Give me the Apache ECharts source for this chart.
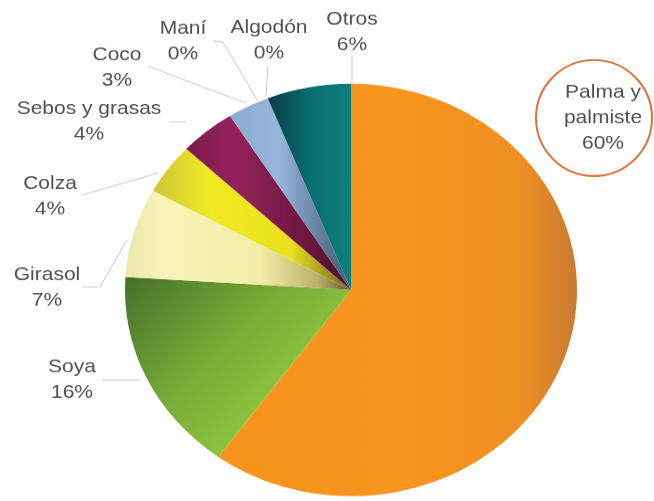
<!DOCTYPE html>
<html><head><meta charset="utf-8">
<script src="https://cdn.jsdelivr.net/npm/echarts@6/dist/echarts.min.js"></script>
<style>
html,body{margin:0;padding:0;background:#fff;overflow:hidden}
#wrap{width:654px;height:501px;overflow:hidden;position:relative}
#c{width:654px;height:549px;transform:scaleY(0.9125);transform-origin:0 0}
</style>
</head><body><div id="wrap"><div id="c"></div></div>
<script>
// ---- data ----
const categories = ['Palma y\npalmiste', 'Soya', 'Girasol', 'Colza', 'Sebos y grasas', 'Coco', 'Maní', 'Algodón', 'Otros'];
const values = [60, 16, 7, 4, 4, 3, 0, 0, 6];

// ---- layout / style (reference pixel coords) ----
const S = 0.9125; // vertical squash of the reference picture
const labelPos = [
  [603, 118], [72, 380], [47, 288], [50, 196], [89, 122], [117, 68], [183, 41], [269, 40], [352, 32]
];
const linePts = [
  null,
  [[102, 380], [121, 380], [140, 380]],
  [[83, 287], [100, 287], [127, 240]],
  [[82, 195], [120, 184], [158, 173]],
  [[170, 122], [178, 122], [186, 122]],
  [[148, 66], [200, 86], [246, 103]],
  [[213, 41], [223, 42], [257, 100]],
  [[268, 66], [267, 80], [266, 96]],
  [[352, 56], [352, 70], [352, 84]]
];
function lg(x, y, x2, y2, stops) {
  return { type: 'linear', x: x, y: y, x2: x2, y2: y2,
    colorStops: stops.map(s => ({ offset: s[0], color: s[1] })) };
}
const colors = [
  lg(0, 0, 1, 0, [[0, '#F7941D'], [0.55, '#F7951D'], [0.85, '#EF8E22'], [1, '#C97A33']]),
  lg(0, 0, 1, 1, [[0, '#44702A'], [0.4, '#77AB37'], [0.7, '#8EC73F'], [1, '#8CC63E']]),
  lg(0, 0, 1, 0, [[0, '#ECE6A8'], [0.15, '#F8F4B9'], [0.6, '#F3EDA8'], [0.85, '#BDB06C'], [1, '#6B5B2C']]),
  lg(0, 0, 1, 0, [[0, '#CFC63C'], [0.3, '#F2EB22'], [0.7, '#E8E020'], [1, '#6E6222']]),
  lg(0, 0, 1, 0, [[0, '#7D1A4C'], [0.3, '#95235B'], [1, '#4E1030']]),
  lg(0, 0, 1, 0, [[0, '#8AAAD0'], [0.4, '#97B6DC'], [1, '#3E5870']]),
  '#C9B27C',
  '#D9D9D9',
  lg(0, 0, 1, 0, [[0, '#063D44'], [0.5, '#0A6E70'], [1, '#0D7F7F']])
];

const data = categories.map((c, i) => ({
  name: c,
  value: values[i],
  itemStyle: { color: colors[i] },
  labelLine: { show: i !== 0 }
}));

const chart = echarts.init(document.getElementById('c'));
chart.setOption({
  backgroundColor: '#fff',
  animation: false,
  graphic: [{
    type: 'circle',
    shape: { cx: 0, cy: 0, r: 58 },
    x: 594, y: 118 / S,
    scaleY: 1 / S,
    style: { fill: 'none', stroke: '#E0713A', lineWidth: 2 },
    z: 1
  }],
  series: [{
    type: 'pie',
    center: [351, 290 / S],
    radius: 226,
    startAngle: 90,
    clockwise: true,
    avoidLabelOverlap: false,
    data: data,
    itemStyle: { borderWidth: 0 },
    label: {
      show: true,
      formatter: '{b}\n{c}%',
      fontFamily: '"Liberation Sans", Arial, sans-serif',
      fontSize: 21,
      lineHeight: 28,
      color: '#4F4F4F',
      align: 'center'
    },
    labelLine: {
      show: true,
      lineStyle: { color: '#C8C8C8', width: 1 }
    },
    labelLayout: function (params) {
      const i = params.dataIndex;
      const p = labelPos[i];
      const res = { x: p[0], y: p[1] / S, align: 'center', verticalAlign: 'middle' };
      if (linePts[i]) res.labelLinePoints = linePts[i].map(q => [q[0], q[1] / S]);
      return res;
    },
    emphasis: { disabled: true }
  }]
});
</script>
</body></html>
